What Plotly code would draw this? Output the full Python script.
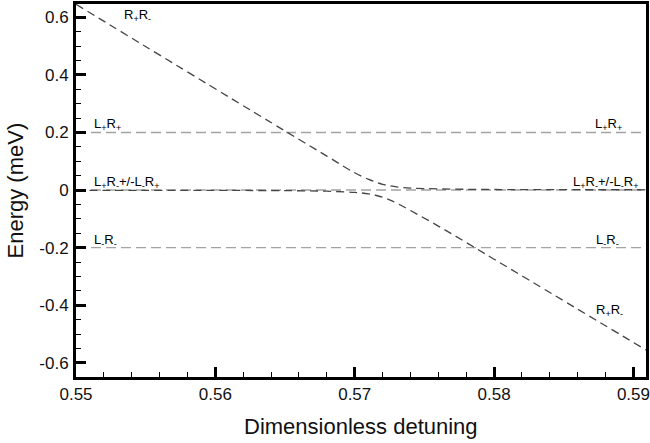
import plotly.graph_objects as go

# Upper adiabatic branch
x_upper = [0.550, 0.565, 0.568, 0.570, 0.571, 0.5715, 0.572, 0.5725, 0.573, 0.574, 0.576, 0.580, 0.591]
y_upper = [0.645, 0.205, 0.118, 0.060, 0.037, 0.028, 0.020, 0.015, 0.011, 0.007, 0.004, 0.002, 0.001]

# Lower adiabatic branch
x_lower = [0.550, 0.565, 0.568, 0.570, 0.571, 0.5715, 0.572, 0.5725, 0.573, 0.574, 0.576, 0.578, 0.580, 0.591]
y_lower = [-0.001, -0.002, -0.004, -0.008, -0.013, -0.018, -0.025, -0.034, -0.045, -0.071, -0.125, -0.182, -0.240, -0.558]

# Flat levels
level_x = [0.550, 0.591]
levels = [0.2, 0.0, -0.2]

# Labels
level_labels = ["L<sub>+</sub>R<sub>+</sub>", "L<sub>+</sub>R<sub>-</sub>+/-L<sub>-</sub>R<sub>+</sub>", "L<sub>-</sub>R<sub>-</sub>"]
branch_label = "R<sub>+</sub>R<sub>-</sub>"

x_ticks = [0.55, 0.56, 0.57, 0.58, 0.59]
x_ticktext = ["0.55", "0.56", "0.57", "0.58", "0.59"]
y_ticks = [-0.6, -0.4, -0.2, 0.0, 0.2, 0.4, 0.6]
y_ticktext = ["-0.6", "-0.4", "-0.2", "0", "0.2", "0.4", "0.6"]

fig = go.Figure()
for lv in levels:
    fig.add_trace(go.Scatter(x=level_x, y=[lv, lv], mode="lines",
                             line=dict(color="#a3a3a3", width=1.4, dash="10px,5px"),
                             showlegend=False, hoverinfo="skip"))
fig.add_trace(go.Scatter(x=x_upper, y=y_upper, mode="lines", line_shape="spline",
                         line=dict(color="#454545", width=1.3, dash="8px,5px"),
                         showlegend=False))
fig.add_trace(go.Scatter(x=x_lower, y=y_lower, mode="lines", line_shape="spline",
                         line=dict(color="#454545", width=1.3, dash="8px,5px"),
                         showlegend=False))

lab_font = dict(family="Liberation Sans", size=13, color="black")
right_x = [0.5893, 0.5905, 0.5891]
anns = []
for txt, lv in zip(level_labels, levels):
    anns.append(dict(x=0.55115, y=lv, text=txt, showarrow=False, xanchor="left",
                     yanchor="bottom", yshift=-3, font=lab_font))
for txt, lv, rx in zip(level_labels, levels, right_x):
    anns.append(dict(x=rx, y=lv, text=txt, showarrow=False, xanchor="right",
                     yanchor="bottom", yshift=-3, font=lab_font))
anns.append(dict(x=0.5533, y=0.605, text=branch_label, showarrow=False, xanchor="left",
                 yanchor="middle", font=lab_font))
anns.append(dict(x=0.5894, y=-0.417, text=branch_label, showarrow=False, xanchor="right",
                 yanchor="middle", font=lab_font))
# axis titles
anns.append(dict(x=0.5, y=0, xref="paper", yref="paper", text="Dimensionless detuning",
                 showarrow=False, xanchor="center", yanchor="middle", yshift=-49,
                 font=dict(family="Liberation Sans", size=22, color="#111111")))
anns.append(dict(x=0, y=0.5, xref="paper", yref="paper", text="Energy (meV)",
                 showarrow=False, xanchor="center", yanchor="middle", xshift=-61,
                 textangle=-90, font=dict(family="Liberation Sans", size=22, color="#111111")))

fig.update_layout(
    width=650, height=443,
    margin=dict(l=76, r=4, t=4, b=66),
    paper_bgcolor="white", plot_bgcolor="white",
    font=dict(family="Liberation Sans", color="black"),
    annotations=anns,
    xaxis=dict(range=[0.55, 0.5909], tickvals=x_ticks, ticktext=x_ticktext,
               ticks="inside", ticklen=10, tickwidth=2.5, tickcolor="black",
               minor=dict(dtick=0.002, ticks="inside", ticklen=5, tickwidth=1, tickcolor="black"),
               showline=True, linecolor="black", linewidth=3, mirror=True,
               showgrid=False, zeroline=False, tickfont=dict(size=17, color="#111111"),
               ticklabeloverflow="allow", automargin=False),
    yaxis=dict(range=[-0.649, 0.646], tickvals=y_ticks, ticktext=y_ticktext,
               ticks="inside", ticklen=10, tickwidth=2.5, tickcolor="black",
               minor=dict(dtick=0.05, ticks="inside", ticklen=5, tickwidth=1, tickcolor="black"),
               showline=True, linecolor="black", linewidth=3, mirror=True,
               showgrid=False, zeroline=False, tickfont=dict(size=17, color="#111111"),
               ticklabelstandoff=1, ticklabeloverflow="allow", automargin=False),
)
fig.write_html("out.html", config={"displayModeBar": False},
               post_script="document.body.style.margin='0';document.body.style.overflow='hidden';")
